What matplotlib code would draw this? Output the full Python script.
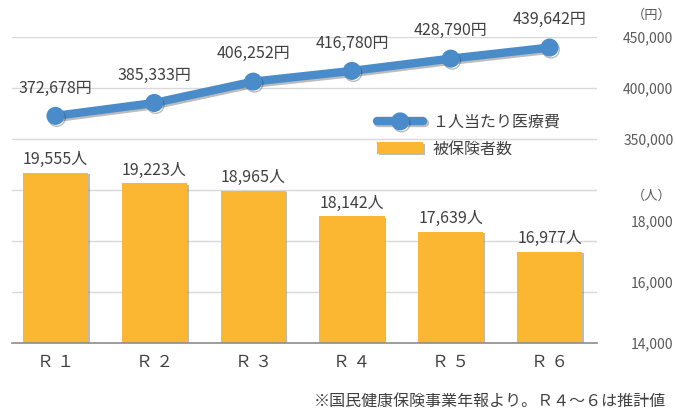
import matplotlib
matplotlib.use('Agg')
import matplotlib.pyplot as plt
import matplotlib.patheffects as pe
from matplotlib.ticker import FuncFormatter
import numpy as np

plt.rcParams['font.family'] = ['Noto Sans CJK JP', 'DejaVu Sans']

years = ['Ｒ １', 'Ｒ ２', 'Ｒ ３', 'Ｒ ４', 'Ｒ ５', 'Ｒ ６']
cost = [372678, 385333, 406252, 416780, 428790, 439642]
members = [19555, 19223, 18965, 18142, 17639, 16977]
cost_ticks = [350000, 400000, 450000]
member_ticks = [14000, 16000, 18000]

blue = '#4A8BC9'
orange = '#FBB632'
text_c = '#404040'
tick_c = '#595959'

fig = plt.figure(figsize=(6.76, 4.16), dpi=100)
ax = fig.add_axes([12/676, 73/416, 585/676, 306/416])
x = np.arange(len(years))

# bars (被保険者数)
bars = ax.bar(x, members, width=0.66, color=orange, zorder=2)
for b in bars:
    b.set_path_effects([pe.SimplePatchShadow(offset=(1.2, -1), shadow_rgbFace='#777777', alpha=0.5),
                        pe.Normal()])
ax.set_xlim(-0.44, 5.48)
ax.set_ylim(14000, 24000)
ax.set_yticks(member_ticks)
ax.set_yticks(np.linspace(14000, 24000, 7), minor=True)
ax.grid(True, which='minor', axis='y', color='#d9d9d9', lw=1)
ax.set_axisbelow(True)
ax.yaxis.set_major_formatter(FuncFormatter(lambda v, p: f'{v:,.0f}'))
ax.set_xticks(x)
ax.set_xticklabels(years)
ax.tick_params(axis='x', length=0, pad=8, labelsize=12, labelcolor=text_c)
for s in ['top', 'left', 'right']:
    ax.spines[s].set_visible(False)
ax.spines['bottom'].set_color('#8c8c8c')
ax.spines['bottom'].set_linewidth(1.2)

for xi, v in zip(x, members):
    ax.annotate(f'{v:,}人', (xi, v), xytext=(0, 9.5), textcoords='offset points',
                ha='center', va='center', fontsize=11.5, color=text_c)

# line (1人当たり医療費)
ax2 = ax.twinx()
# twinx moves the first axis' ticks back to the left
ax.yaxis.tick_right()
ax.tick_params(axis='y', which='both', length=0)
ax.tick_params(axis='y', which='major', pad=55, labelsize=10, labelcolor=tick_c)
for t in ax.yaxis.get_major_ticks():
    t.label2.set_horizontalalignment('right')

ax2.set_ylim(150000, 450000)
line, = ax2.plot(x, cost, color=blue, lw=6, marker='o', ms=12, zorder=3,
                 solid_capstyle='round')
line.set_path_effects([pe.SimpleLineShadow(offset=(1, -1.5), shadow_color='#222222', alpha=0.3),
                       pe.Normal()])
ax2.set_yticks(cost_ticks)
ax2.yaxis.set_major_formatter(FuncFormatter(lambda v, p: f'{v:,.0f}'))
ax2.tick_params(axis='y', length=0, pad=55, labelsize=10, labelcolor=tick_c)
for t in ax2.yaxis.get_major_ticks():
    t.label2.set_horizontalalignment('right')
for s in ax2.spines.values():
    s.set_visible(False)

for xi, v in zip(x, cost):
    ax2.annotate(f'{v:,}円', (xi, v), xytext=(0, 20), textcoords='offset points',
                 ha='center', va='center', fontsize=11.5, color=text_c)

ax2.legend([line, bars], ['１人当たり医療費', '被保険者数'], loc='upper left',
           bbox_to_anchor=(377/676, 1 - 114/416), bbox_transform=fig.transFigure,
           frameon=False, borderpad=0, borderaxespad=0, handlelength=2.9,
           handletextpad=0.55, labelspacing=0.6, fontsize=11.5, labelcolor=text_c)

fig.text(672/676, 1 - 15/416, '（円）', ha='right', va='center', fontsize=9.5, color=tick_c)
fig.text(672/676, 1 - 196/416, '（人）', ha='right', va='center', fontsize=9.5, color=tick_c)
fig.text(666/676, 1 - 401/416, '※国民健康保険事業年報より。Ｒ４～６は推計値',
         ha='right', va='center', fontsize=11.5, color=text_c)

fig.savefig('out.png', dpi=100)
